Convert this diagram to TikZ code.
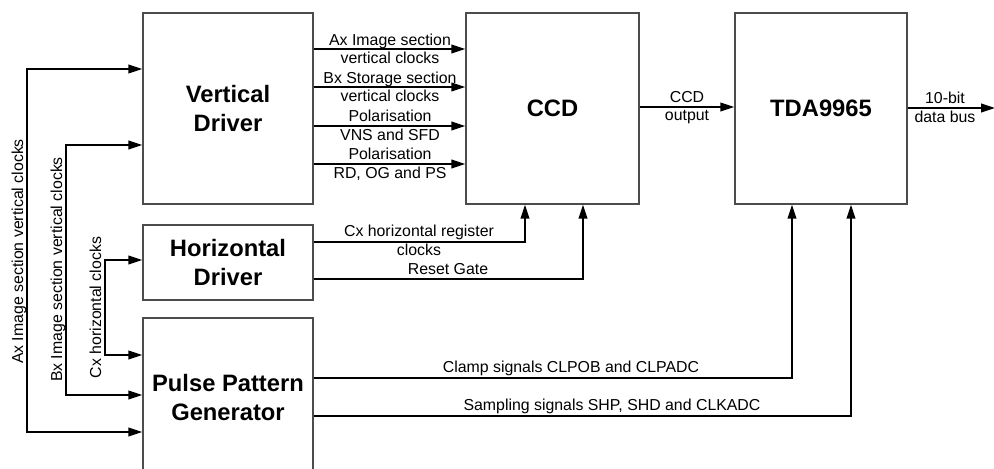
\documentclass[tikz,border=0pt]{standalone}
\usepackage{fontspec}
\setmainfont{Liberation Sans}
\usetikzlibrary{arrows.meta}
\begin{document}
\begin{tikzpicture}[x=0.75pt,y=-0.75pt,
  box/.style={draw=black!70, line width=1pt, fill=white, inner sep=0pt,
    font=\fontsize{17.8pt}{21.75pt}\selectfont\bfseries, align=center},
  tip/.style={Triangle[length=10.5pt,width=6.5pt]},
  conn/.style={line width=1.4pt, -{Triangle[length=10.5pt,width=6.5pt]}},
  conntwo/.style={line width=1.4pt, {Triangle[length=10.5pt,width=6.5pt]}-{Triangle[length=10.5pt,width=6.5pt]}},
  lbl/.style={font=\fontsize{11.9pt}{14pt}\selectfont, anchor=base, inner sep=0pt}]
\clip (0,0) rectangle (994,468);
\fill[white] (0,0) rectangle (994,468);

% boxes
\node[box, minimum width=127.5pt, minimum height=143.25pt] (vd) at (228,108.5) {Vertical\\Driver};
\node[box, minimum width=127.5pt, minimum height=56.25pt] (hd) at (228,262.5) {Horizontal\\Driver};
\node[box, minimum width=127.5pt, minimum height=120pt] (ppg) at (228,398) {Pulse Pattern\\Generator};
\node[box, minimum width=129.75pt, minimum height=143.25pt] (ccd) at (552.5,108.5) {CCD};
\node[box, minimum width=129pt, minimum height=143.25pt] (tda) at (821,108.5) {TDA9965};

% Vertical driver -> CCD
\foreach \yy in {49,87,126,164}{
  \draw[conn] (vd.east |- 0,\yy) -- (ccd.west |- 0,\yy);
}
\node[lbl] (l1a) at (390,45) {Ax Image section};
\node[lbl] (l1b) at (390,63) {vertical clocks};
\node[lbl] (l2a) at (390,83) {Bx Storage section};
\node[lbl] (l2b) at (390,101) {vertical clocks};
\node[lbl] (l3a) at (390,121) {Polarisation};
\node[lbl] (l3b) at (390,140) {VNS and SFD};
\node[lbl] (l4a) at (390,159) {Polarisation};
\node[lbl] (l4b) at (390,178) {RD, OG and PS};

% CCD -> TDA
\draw[conn] (ccd.east |- 0,107) -- (tda.west |- 0,107);
\node[lbl] (co1) at (687,102) {CCD};
\node[lbl] (co2) at (687,120) {output};

% TDA -> out
\coordinate (busend) at (995,108);
\draw[conn] (tda.east |- 0,108) -- (busend);
\node[lbl] (db1) at (945,103) {10-bit};
\node[lbl] (db2) at (945,122) {data bus};

% Horizontal driver -> CCD
\draw[conn] (hd.east |- 0,242) -| (ccd.south -| 525,0);
\draw[conn] (hd.east |- 0,279) -| (ccd.south -| 583,0);
\node[lbl] (h1) at (419,236) {Cx horizontal register};
\node[lbl] (h2) at (419,255) {clocks};
\node[lbl] (h3) at (448,274) {Reset Gate};

% PPG -> TDA
\draw[conn] (ppg.east |- 0,378) -| (tda.south -| 792,0);
\draw[conn] (ppg.east |- 0,416) -| (tda.south -| 851,0);
\node[lbl] (p1) at (571,372) {Clamp signals CLPOB and CLPADC};
\node[lbl] (p2) at (612,410) {Sampling signals SHP, SHD and CLKADC};

% left feedback lines
\coordinate (axt) at (27,69);
\coordinate (axb) at (27,432);
\coordinate (bxt) at (66,145);
\coordinate (bxb) at (66,395);
\coordinate (cxt) at (105,260);
\coordinate (cxb) at (105,355);
\draw[conntwo] (vd.west |- axt) -- (axt) -- (axb) -- (ppg.west |- axb);
\draw[conntwo] (vd.west |- bxt) -- (bxt) -- (bxb) -- (ppg.west |- bxb);
\draw[conntwo] (hd.west |- cxt) -- (cxt) -- (cxb) -- (ppg.west |- cxb);
\node[lbl, rotate=90] (ax) at (23,251.5) {Ax Image section vertical clocks};
\node[lbl, rotate=90] (bx) at (62,269.5) {Bx Image section vertical clocks};
\node[lbl, rotate=90] (cx) at (101,307.5) {Cx horizontal clocks};
\end{tikzpicture}
\end{document}
